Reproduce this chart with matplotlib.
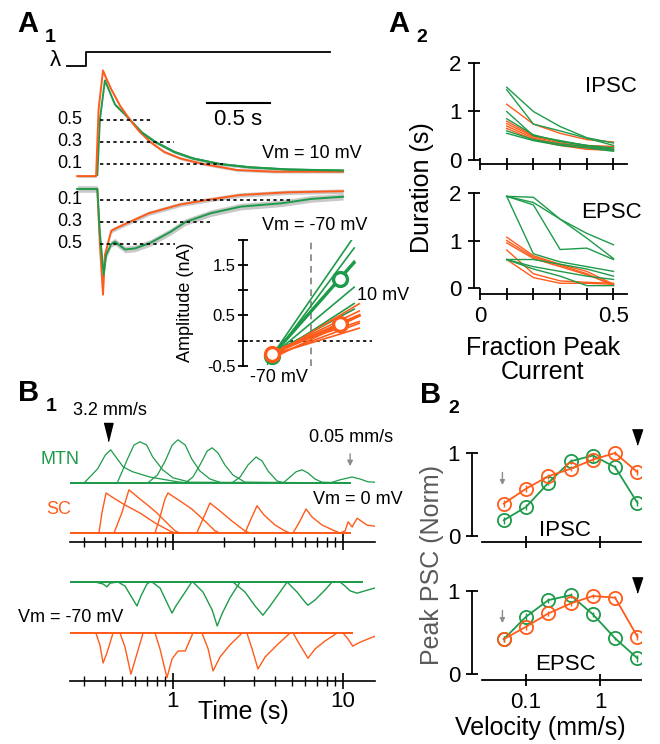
import numpy as np
import matplotlib
matplotlib.use("Agg")
from matplotlib import pyplot as plt

plt.rcParams['font.family'] = ['Liberation Sans', 'DejaVu Sans']
plt.rcParams['axes.linewidth'] = 1.3

W, H = 660, 744
GREEN = '#1e9b4a'
ORANGE = '#ff5b1a'
BAND = '#c8c8c8'

# ---------------- A1 : normalised mean PSCs (time in s from light onset)
stim_t = [-0.15, 0.0, 0.0, 1.94]
stim_v = [0, 0, 1, 1]

top_orange_t = [-0.07, 0.08, 0.1, 0.135, 0.16, 0.2, 0.27, 0.35, 0.42, 0.51, 0.62, 0.75, 0.93, 1.2, 1.5, 2.04]
top_orange_v = [-0.01, -0.01, 0.6, 0.95, 0.88, 0.78, 0.63, 0.5, 0.4, 0.3, 0.21, 0.15, 0.1, 0.045, 0.03, 0.03]
top_green_t = [0.09, 0.11, 0.15, 0.23, 0.31, 0.35, 0.45, 0.55, 0.7, 0.85, 1.06, 1.3, 1.6, 2.04]
top_green_v = [0.0, 0.5, 0.86, 0.64, 0.55, 0.5, 0.38, 0.3, 0.21, 0.15, 0.1, 0.07, 0.05, 0.04]

bot_orange_t = [0.09, 0.11, 0.135, 0.15, 0.2, 0.25, 0.5, 0.75, 0.96, 1.22, 1.6, 2.04]
bot_orange_v = [0, -0.5, -0.96, -0.6, -0.38, -0.35, -0.22, -0.14, -0.1, -0.055, -0.03, -0.02]
bot_green_t = [-0.07, 0.09, 0.11, 0.14, 0.16, 0.2, 0.23, 0.31, 0.39, 0.51, 0.67, 0.79, 0.99, 1.23, 1.55, 1.79, 2.04]
bot_green_v = [0, 0, -0.4, -0.78, -0.6, -0.5, -0.48, -0.55, -0.54, -0.49, -0.39, -0.3, -0.22, -0.16, -0.13, -0.09, -0.07]

frac_levels = [0.5, 0.3, 0.1]
frac_end_top = [0.51, 0.70, 1.09]
frac_end_bot = [0.71, 1.01, 1.62]

# inset: I-V lines (nA at -70 and +10 mV)
iv_volt = [-70, 10]
iv_green = [[-0.30, 1.65], [-0.35, 1.45], [-0.28, 1.25], [-0.30, 0.82], [-0.25, 0.47], [-0.32, 0.55]]
iv_orange = [[-0.30, 0.50], [-0.25, 0.40], [-0.35, 0.30], [-0.20, 0.25], [-0.30, 0.20], [-0.28, 0.13]]
iv_green_mean = [-0.30, 1.22]
iv_orange_mean = [-0.26, 0.33]

# ---------------- A2 : duration vs fraction of peak
frac_x = [0.1, 0.2, 0.3, 0.4, 0.5]
ipsc_green = [[1.50, 1.00, 0.69, 0.46, 0.35], [1.45, 0.74, 0.60, 0.45, 0.30], [1.00, 0.50, 0.40, 0.30, 0.25],
              [0.85, 0.52, 0.38, 0.30, 0.22], [0.60, 0.42, 0.33, 0.28, 0.20], [0.55, 0.40, 0.30, 0.25, 0.18]]
ipsc_orange = [[1.15, 0.74, 0.55, 0.42, 0.37], [0.80, 0.50, 0.38, 0.30, 0.28], [0.75, 0.48, 0.35, 0.27, 0.25],
               [0.70, 0.45, 0.32, 0.25, 0.22], [0.65, 0.42, 0.30, 0.22, 0.20]]
epsc_green = [[1.93, 1.91, 1.45, 1.15, 0.91], [1.93, 1.80, 1.45, 1.05, 0.62], [1.93, 1.75, 0.81, 0.84, 0.60],
              [1.93, 0.72, 0.55, 0.45, 0.35], [0.60, 0.60, 0.50, 0.40, 0.25], [0.60, 0.45, 0.35, 0.25, 0.18],
              [0.60, 0.40, 0.25, 0.05, 0.05]]
epsc_orange = [[1.07, 0.68, 0.50, 0.35, 0.08], [1.00, 0.65, 0.48, 0.30, 0.05], [0.95, 0.62, 0.45, 0.28, 0.07],
               [0.80, 0.30, 0.15, 0.12, 0.10], [0.60, 0.22, 0.10, 0.10, 0.08]]

# ---------------- B1 : responses to moving stimuli (time s, normalised amplitude)
mtn0_t = [[0.25, 0.30, 0.36, 0.40, 0.43, 0.51, 0.58, 0.73, 1.06, 1.26, 11.0],
          [0.25, 0.47, 0.54, 0.59, 0.64, 0.70, 0.76, 0.87, 1.0, 1.26, 11.0],
          [0.25, 0.71, 0.81, 0.90, 0.99, 1.07, 1.18, 1.29, 1.44, 1.65, 1.94, 11.0],
          [0.25, 1.18, 1.31, 1.44, 1.59, 1.70, 1.84, 2.02, 2.25, 2.65, 11.0],
          [0.25, 2.22, 2.48, 2.76, 3.08, 3.34, 3.62, 4.09, 4.56, 11.0],
          [0.25, 4.44, 4.88, 5.29, 5.74, 6.22, 6.84, 7.52, 11.0],
          [0.25, 8.38, 9.59, 11.3, 12.6, 14.0, 15.4]]
mtn0_v = [[0, 0, 0.35, 0.7, 0.83, 0.4, 0.28, 0.15, 0.03, 0, 0],
          [0, 0, 0.6, 0.95, 1.03, 0.95, 0.65, 0.33, 0.13, 0.02, 0],
          [0, 0, 0.2, 0.55, 0.95, 1.08, 0.95, 0.6, 0.3, 0.1, 0, 0],
          [0, 0, 0.15, 0.45, 0.8, 0.88, 0.75, 0.45, 0.2, 0.02, 0],
          [0, 0, 0.15, 0.45, 0.65, 0.55, 0.3, 0.05, 0, 0],
          [0, 0, 0.15, 0.28, 0.33, 0.25, 0.1, 0.02, 0],
          [0, 0, 0.08, 0.15, 0.1, 0.03, 0.02]]
sc0_t = [[0.25, 0.367, 0.382, 0.404, 0.438, 0.522, 0.64, 0.784, 0.96, 1.03, 11.0],
         [0.25, 0.45, 0.50, 0.551, 0.64, 0.732, 0.805, 0.897, 1.03, 1.10, 11.0],
         [0.25, 0.784, 0.839, 0.897, 0.934, 1.10, 1.29, 1.54, 1.77, 1.89, 11.0],
         [0.25, 1.38, 1.50, 1.65, 1.89, 2.22, 2.65, 2.84, 11.0],
         [0.25, 2.65, 2.84, 3.12, 3.43, 3.98, 4.56, 4.88, 11.0],
         [0.25, 5.08, 5.58, 6.06, 6.57, 7.52, 8.97, 9.59, 11.0],
         [0.25, 9.59, 10.27, 10.71, 11.3, 12.1, 13.8, 15.4]]
sc0_v = [[0, 0, 0.5, 1.0, 0.9, 0.7, 0.5, 0.25, 0.05, 0, 0],
         [0, 0, 0.5, 1.08, 0.85, 0.65, 0.5, 0.3, 0.05, 0, 0],
         [0, 0, 0.4, 0.85, 1.0, 0.8, 0.6, 0.3, 0.05, 0, 0],
         [0, 0, 0.35, 0.75, 0.55, 0.3, 0.05, 0, 0],
         [0, 0, 0.3, 0.68, 0.45, 0.2, 0.05, 0, 0],
         [0, 0, 0.3, 0.6, 0.4, 0.2, 0.05, 0, 0],
         [0, 0, 0.05, 0.28, 0.15, 0.37, 0.2, 0.17]]
mtn70_t = [[0.25, 0.348, 0.388, 0.409, 0.426, 0.475, 12.9],
           [0.25, 0.475, 0.522, 0.614, 0.648, 0.703, 0.732, 12.9],
           [0.25, 0.752, 0.839, 0.987, 1.04, 1.18, 1.29, 12.9],
           [0.25, 1.31, 1.50, 1.70, 1.82, 1.94, 2.16, 2.48, 12.9],
           [0.25, 2.25, 2.65, 3.04, 3.38, 3.72, 4.26, 4.69, 12.9],
           [0.25, 4.69, 5.36, 5.97, 6.22, 6.84, 7.83, 8.62, 12.9],
           [0.25, 9.59, 10.27, 10.99, 12.1, 13.46, 15.4]]
mtn70_v = [[0, 0, -0.05, -0.12, -0.03, 0, 0],
           [0, 0, -0.1, -0.6, -0.35, -0.05, 0, 0],
           [0, 0, -0.15, -0.78, -0.6, -0.25, 0, 0],
           [0, 0, -0.25, -0.7, -1.1, -0.8, -0.4, 0, 0],
           [0, 0, -0.25, -0.6, -0.83, -0.6, -0.25, 0, 0],
           [0, 0, -0.25, -0.5, -0.58, -0.45, -0.2, 0, 0],
           [0, 0, -0.1, -0.22, -0.28, -0.22, -0.15]]
sc70_t = [[0.25, 0.352, 0.372, 0.388, 0.409, 0.444, 11.3],
          [0.25, 0.488, 0.522, 0.566, 0.606, 0.667, 11.3],
          [0.25, 0.784, 0.839, 0.922, 0.987, 1.07, 1.18, 1.31, 11.3],
          [0.25, 1.48, 1.61, 1.72, 1.89, 2.16, 2.55, 11.3],
          [0.25, 2.72, 2.92, 3.16, 3.48, 4.09, 4.88, 11.3],
          [0.25, 5.08, 5.58, 6.22, 6.84, 7.83, 9.22, 11.3],
          [0.25, 10.0, 10.7, 11.4, 12.3, 13.1, 14.0, 15.4]]
sc70_v = [[0, 0, -0.3, -0.75, -0.5, 0, 0],
          [0, 0, -0.35, -1.03, -0.6, 0, 0],
          [0, 0, -0.4, -1.12, -0.65, -0.45, -0.45, 0, 0],
          [0, 0, -0.4, -0.95, -0.6, -0.3, 0, 0],
          [0, 0, -0.4, -0.9, -0.6, -0.3, 0, 0],
          [0, 0, -0.3, -0.63, -0.4, -0.2, 0, 0],
          [0, 0, -0.15, -0.33, -0.25, -0.2, -0.15, -0.08]]

# ---------------- B2 : peak PSC vs velocity
vel = [0.05, 0.1, 0.2, 0.4, 0.8, 1.6, 3.2]
ipsc_sc = [0.39, 0.57, 0.72, 0.81, 0.92, 1.0, 0.77]
ipsc_mtn = [0.19, 0.35, 0.64, 0.90, 0.97, 0.83, 0.40]
epsc_sc = [0.42, 0.57, 0.73, 0.85, 0.94, 0.92, 0.45]
epsc_mtn = [0.42, 0.69, 0.89, 0.95, 0.72, 0.43, 0.19]
psc_err = [0.04, 0.04, 0.03, 0.03, 0.03, 0.02, 0.04]


fig = plt.figure(figsize=(W / 100, H / 100), dpi=100)


def ax_px(x0, y0, x1, y1):
    return fig.add_axes([x0 / W, 1 - y1 / H, (x1 - x0) / W, (y1 - y0) / H])


def txt(x, y, s, **kw):
    kw.setdefault('ha', 'center')
    kw.setdefault('va', 'center')
    fig.text(x / W, 1 - y / H, s, **kw)


def panel(x, y, letter, sub):
    txt(x, y, letter, ha='left', va='baseline', fontsize=21, fontweight='bold')
    txt(x + 28, y + 10, sub, ha='left', va='baseline', fontsize=14, fontweight='bold')


def trace_with_band(ax, t, v, color, band):
    v = np.array(v)
    ax.fill_between(t, v - band, v + band, color=BAND, lw=0)
    ax.plot(t, v, color=color, lw=1.4)


# ---- A1
tlim = (-0.365, 2.095)
ax_stim = ax_px(40, 45, 350, 72)
ax_stim.plot(stim_t, stim_v, color='k', lw=1.3)
ax_stim.set_xlim(tlim)
ax_stim.set_ylim(-0.43, 1.5)
ax_stim.axis('off')
txt(55, 60, 'λ', fontsize=16)

ax_top = ax_px(40, 40, 350, 182)
ax_top.set_xlim(tlim)
ax_top.set_ylim(-0.0636, 1.227)
ax_top.axis('off')
trace_with_band(ax_top, top_green_t, top_green_v, GREEN, 0.015)
trace_with_band(ax_top, top_orange_t, top_orange_v, ORANGE, 0.012)
ax_top.plot(top_green_t[6:], top_green_v[6:], color=GREEN, lw=1.4)
for lev, end in zip(frac_levels, frac_end_top):
    ax_top.plot([0.11, end], [lev, lev], color='k', lw=1.2, ls=(0, (2, 2)))
    ax_top.text(-0.03, lev, f'{lev:.1f}', ha='right', va='center', fontsize=13)
ax_top.plot([0.96, 1.46], [0.655, 0.655], color='k', lw=1.5)
ax_top.text(1.21, 0.5, '0.5 s', ha='center', va='center', fontsize=16)
txt(262, 153, 'Vm = 10 mV', ha='left', fontsize=13)

ax_bot = ax_px(40, 182, 350, 310)
ax_bot.set_xlim(tlim)
ax_bot.set_ylim(-1.1, 0.0636)
ax_bot.axis('off')
trace_with_band(ax_bot, bot_orange_t, bot_orange_v, ORANGE, 0.02)
trace_with_band(ax_bot, bot_green_t, bot_green_v, GREEN, 0.03)
for lev, end in zip(frac_levels, frac_end_bot):
    ax_bot.plot([0.11, end], [-lev, -lev], color='k', lw=1.2, ls=(0, (2, 2)))
    ax_bot.text(-0.03, -lev, f'{lev:.1f}', ha='right', va='center', fontsize=13)
txt(262, 225, 'Vm = -70 mV', ha='left', fontsize=13)

# inset
ins = ax_px(243, 239.5, 372, 366)
ins.patch.set_alpha(0)
ins.set_xlim(-104, 48)
ins.set_ylim(-0.5, 2.0)
for s in ['top', 'right', 'bottom']:
    ins.spines[s].set_visible(False)
ins.set_xticks([])
ins.set_yticks([-0.5, 0, 0.5, 1.0, 1.5, 2.0])
ins.set_yticklabels(['-0.5', '', '0.5', '', '1.5', ''])
ins.tick_params(axis='y', direction='inout', length=7, width=1.3, labelsize=12, pad=2)
ins.set_ylabel('Amplitude (nA)', fontsize=13)
ins.yaxis.set_label_coords(-0.38, 0.5)
ins.axvline(-24, color='#808080', lw=1.2, ls=(0, (4, 3)))
ins.axhline(0, color='k', lw=1.2, ls=(0, (2, 2)))
for rows, color, v_end in [(iv_green, GREEN, 27), (iv_orange, ORANGE, 33)]:
    for row in rows:
        k, b = np.polyfit(iv_volt, row, 1)
        ins.plot([-75, v_end], [k * -75 + b, k * v_end + b], color=color, lw=1.2)
for mean, color, v_end in [(iv_green_mean, GREEN, 27), (iv_orange_mean, ORANGE, 33)]:
    k, b = np.polyfit(iv_volt, mean, 1)
    ins.plot([-72, v_end], [k * -72 + b, k * v_end + b], color=color, lw=2.2)
    ins.plot(iv_volt, mean, 'o', ms=10, mfc='white', mec=color, mew=2.4, zorder=5)
txt(357, 296, '10 mV', ha='left', fontsize=13)
txt(279, 377, '-70 mV', fontsize=13)

# ---- A2
def a2_axes(ax, show_labels):
    for s in ['top', 'right']:
        ax.spines[s].set_visible(False)
    ax.spines['left'].set_bounds(0, 2)
    ax.spines['bottom'].set_bounds(0, 0.55)
    ax.set_xlim(-0.0225, 0.5506)
    ax.set_yticks([0, 1, 2])
    ax.set_yticklabels(['0', '1', '2'])
    ax.set_xticks([0] + frac_x)
    ax.set_xticklabels(['0', '', '', '', '', '0.5'] if show_labels else [])
    ax.tick_params(direction='inout', length=8, width=1.3, labelsize=16, pad=5)


ax_ip = ax_px(474, 63, 627, 164)
ax_ip.set_ylim(-0.0825, 2.0)
for row in ipsc_orange:
    ax_ip.plot(frac_x, row, color=ORANGE, lw=1.0)
for row in ipsc_green:
    ax_ip.plot(frac_x, row, color=GREEN, lw=1.0)
a2_axes(ax_ip, False)
txt(611, 86, 'IPSC', fontsize=16)

ax_ep = ax_px(474, 193, 627, 294)
ax_ep.set_ylim(-0.126, 2.0)
for row in epsc_orange:
    ax_ep.plot(frac_x, row, color=ORANGE, lw=1.0)
for row in epsc_green:
    ax_ep.plot(frac_x, row, color=GREEN, lw=1.0)
a2_axes(ax_ep, True)
txt(611, 212, 'EPSC', fontsize=16)
txt(422, 188, 'Duration (s)', rotation=90, fontsize=18)
txt(543, 360, 'Fraction Peak\nCurrent', fontsize=18, linespacing=1.05)

# ---- B1
def b1_axes(ax, ylim, labels):
    ax.set_xscale('log')
    ax.set_xlim(0.248, 15.41)
    ax.set_ylim(ylim)
    for s in ['top', 'right', 'left']:
        ax.spines[s].set_visible(False)
    ax.spines['bottom'].set_linewidth(1.2)
    ax.set_yticks([])
    ax.set_xticks([1, 10])
    ax.set_xticklabels(['1', '10'] if labels else [])
    ax.tick_params(axis='x', which='major', direction='inout', length=11, width=1.2, labelsize=16, pad=2)
    ax.tick_params(axis='x', which='minor', direction='inout', length=7, width=1.0, labelbottom=False)
    ax.patch.set_alpha(0)


ax_b1t = ax_px(70, 400, 375, 542)
for t, v in zip(sc0_t, sc0_v):
    ax_b1t.plot(t, v, color=ORANGE, lw=1.0)
for t, v in zip(mtn0_t, mtn0_v):
    ax_b1t.plot(t, np.array(v) + 1.25, color=GREEN, lw=0.9)
b1_axes(ax_b1t, (-0.225, 3.325), False)
tri_b1 = [(-0.5, 1), (0.5, 1), (0, -1)]
ax_b1t.plot([0.415], [2.525], marker=tri_b1, ms=13, color='k', clip_on=False)
ax_b1t.annotate('', xy=(11.0, 1.6), xytext=(11.0, 2.05),
                arrowprops=dict(arrowstyle='-|>', color='#8c8c8c', lw=1.0, mutation_scale=8),
                annotation_clip=False)

ax_b1b = ax_px(70, 560, 375, 681)
for t, v in zip(sc70_t, sc70_v):
    ax_b1b.plot(t, v, color=ORANGE, lw=1.0)
for t, v in zip(mtn70_t, mtn70_v):
    ax_b1b.plot(t, np.array(v) + 1.275, color=GREEN, lw=1.0)
b1_axes(ax_b1b, (-1.2, 1.825), True)

txt(110, 411, '3.2 mm/s', fontsize=13)
txt(351, 437, '0.05 mm/s', fontsize=13)
txt(60, 459, 'MTN', fontsize=13, color=GREEN)
txt(59, 510, 'SC', fontsize=13, color=ORANGE)
txt(313, 499, 'Vm = 0 mV', ha='left', fontsize=13)
txt(18, 617, 'Vm = -70 mV', ha='left', fontsize=13)
txt(243, 712, 'Time (s)', fontsize=18)

# ---- B2
def b2_axes(ax, labels):
    ax.set_xscale('log')
    ax.set_xlim(0.01863, 3.58)
    ax.set_ylim(-0.072, 1.157)
    for s in ['top', 'right']:
        ax.spines[s].set_visible(False)
    ax.spines['left'].set_bounds(0, 1)
    ax.spines['bottom'].set_bounds(0.0254, 3.58)
    ax.set_yticks([0, 1])
    ax.set_yticklabels(['0', '1'])
    ax.set_xticks([0.1, 1])
    ax.set_xticklabels(['0.1', '1'] if labels else [])
    ax.minorticks_off()
    ax.tick_params(direction='inout', length=9, width=1.3, labelsize=16, pad=4)
    ax.patch.set_alpha(0)


tri_b2 = [(-0.5, 0.75), (0.5, 0.75), (0, -0.75)]
for box, sc, mtn, label, ylab, tri_y in [((472, 440, 641, 542), ipsc_sc, ipsc_mtn, False, 531, 1.19),
                                         ((472, 578, 641, 680), epsc_sc, epsc_mtn, True, 664, 1.07)]:
    ax = ax_px(*box)
    ax.errorbar(vel, mtn, yerr=psc_err, color=GREEN, lw=1.3, elinewidth=1.0, capsize=0,
                marker='o', ms=9.5, mfc='none', mec=GREEN, mew=1.3)
    ax.errorbar(vel, sc, yerr=psc_err, color=ORANGE, lw=1.3, elinewidth=1.0, capsize=0,
                marker='o', ms=9.5, mfc='none', mec=ORANGE, mew=1.3)
    b2_axes(ax, label)
    ax.plot([3.2], [tri_y], marker=tri_b2, ms=11, color='k', clip_on=False)
    ax.annotate('', xy=(0.048, 0.58), xytext=(0.048, 0.8),
                arrowprops=dict(arrowstyle='-|>', color='#8c8c8c', lw=1.0, mutation_scale=7),
                annotation_clip=False)
    txt(565, ylab, 'IPSC' if not label else 'EPSC', fontsize=16)

txt(432, 565, 'Peak PSC (Norm)', rotation=90, fontsize=18, color='#5a5a5a')
txt(540, 728, 'Velocity (mm/s)', fontsize=18)

# ---- panel labels
panel(17, 32, 'A', '1')
panel(388, 32, 'A', '2')
panel(18, 401, 'B', '1')
panel(420, 403, 'B', '2')

fig.savefig('out.png', dpi=100)
